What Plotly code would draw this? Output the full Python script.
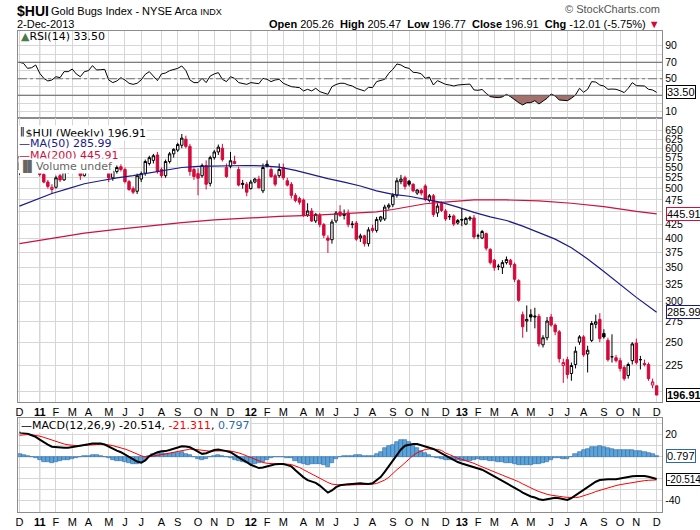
import math
import pandas as pd
import plotly.graph_objects as go

W, H = 700, 530

# ---------------- data ----------------
dates = [d.strftime('%Y-%m-%d') for d in pd.date_range('2010-12-03', '2013-11-29', freq='7D')] + ['2013-12-02']

opens = [545,578,590,580,592,570,533,515,498,503,530,520,540,560,572,565,530,565,585,595,
         600,598,545,525,540,552,545,516,500,494,522,536,560,568,582,545,530,565,585,595,
         608,625,605,545,535,530,555,512,575,590,600,550,553,565,545,512,510,500,515,522,
         495,558,545,530,530,550,518,510,485,478,475,444,452,432,443,425,400,397,432,450,
         443,448,425,428,400,404,390,418,414,434,436,460,465,485,516,525,517,510,490,496,
         506,474,484,448,468,452,440,442,428,435,426,436,438,404,400,408,380,362,352,350,
         358,362,355,330,283,275,283,280,281,247,255,280,270,262,225,231,217,226,250,256,
         237,252,271,277,260,252,234,233,230,223,215,230,249,231,227,226,206,205.26]
highs = [585,600,605,600,600,575,538,520,510,530,535,545,565,580,585,575,570,590,600,615,
         610,602,550,545,555,558,550,520,505,535,540,570,580,585,590,550,570,590,600,615,
         640,635,612,550,548,560,568,580,595,610,612,560,590,580,552,520,515,520,525,530,
         560,568,550,535,560,560,525,515,490,482,478,468,458,448,448,428,405,435,452,464,
         455,455,432,432,408,406,420,425,440,442,465,468,490,525,532,530,520,512,498,500,
         510,488,488,468,472,456,446,445,436,458,440,442,444,408,415,410,382,364,356,362,
         368,364,358,332,287,295,290,292,284,258,280,284,272,264,232,234,228,245,258,258,
         246,275,283,285,265,255,259,236,233,225,228,250,254,235,231,228,212,205.47]
lows = [532,565,570,568,560,528,512,500,488,500,515,518,535,550,555,520,528,560,575,588,
        588,540,515,518,535,540,512,495,488,488,515,530,555,560,535,525,525,560,575,590,
        600,600,530,520,485,525,498,505,570,582,565,525,548,558,505,500,483,498,512,500,
        490,550,525,505,525,520,505,478,470,465,440,440,430,428,420,400,374,390,428,440,
        435,420,418,395,393,385,385,410,410,430,432,455,460,480,510,498,505,492,486,485,
        472,470,440,440,450,432,434,422,425,422,424,432,398,398,398,378,355,345,346,340,
        355,350,328,300,255,262,274,266,245,244,252,268,258,228,208,212,210,222,247,234,
        218,250,266,250,254,229,228,228,219,210,212,226,226,221,224,210,203,196.77]
closes = [578,590,580,592,575,533,515,505,503,525,520,540,560,572,565,530,565,585,595,600,
          592,545,525,540,550,545,516,498,492,530,535,565,575,580,540,530,565,585,597,610,
          628,605,540,528,524,555,510,575,590,603,570,528,567,560,508,510,492,515,522,502,
          550,553,528,510,545,525,508,485,474,470,443,452,432,445,425,405,396,430,448,443,
          446,425,426,398,404,390,415,414,435,440,460,464,485,518,522,505,510,495,497,490,
          476,484,445,462,453,436,441,426,433,434,437,438,402,404,412,382,358,350,352,358,
          363,355,332,302,268,277,280,281,248,255,275,270,262,232,228,216,225,240,256,236,
          241,272,274,254,256,231,234,230,222,212,226,248,228,231,226,212,208.92,196.91]

ma50_idx = [0, 4, 8, 12, 16, 20, 24, 28, 32, 36, 40, 44, 48, 52, 56, 60, 64, 68, 72, 76,
            80, 84, 88, 92, 96, 100, 104, 108, 112, 116, 120, 124, 128, 132, 136, 140, 144, 148, 152, 157]
ma50_val = [462, 475, 489, 500, 511, 518, 525, 530, 537, 544, 550, 553, 554, 555, 555, 554, 551, 543, 532, 523,
            515, 506, 495, 487, 483, 477, 470, 460, 449, 440, 433, 422, 410, 398, 383, 364, 344, 324, 306, 285.99]
ma200_idx = [0, 8, 16, 24, 32, 40, 48, 56, 64, 72, 80, 88, 92, 96, 100, 104, 108, 112, 120, 128, 136, 144, 152, 157]
ma200_val = [390, 400, 409, 416, 423, 429, 434, 438, 441, 443, 446, 450, 455, 461, 467, 470, 473, 475, 475, 473, 468, 461, 451, 445.91]

rsi = [70, 68.7, 62.6, 63.4, 66.7, 56.6, 50.5, 47.3, 48.5, 52.5,
       51.3, 58.6, 58.6, 61.8, 55.8, 52.5, 58.6, 59.8, 65.9, 60.6,
       61.0, 61.4, 48.5, 45.3, 47.3, 51.3, 48.5, 44.5, 43.2, 44.5,
       48.5, 55.4, 58.6, 52.5, 47.7, 55.8, 57, 59.8, 61.5, 62.6,
       65.5, 60, 48.5, 45.3, 45.3, 50.5, 45.3, 53.3, 55.8, 57.4,
       49.3, 46.5, 52.5, 50.5, 45.3, 44.5, 43.2, 45.3, 44.5, 44,
       50.5, 49.3, 46.5, 48.5, 49.3, 44.5, 42.4, 40.4, 39.8, 39.2,
       35.2, 37.2, 35.2, 38.4, 34.4, 32.5, 31.1, 40.4, 43, 44.5,
       44.5, 42.5, 41.2, 38.4, 37, 35.2, 39.6, 39.2, 46.5, 48,
       49.3, 56.6, 61.4, 67.9, 66.7, 63.8, 62.6, 57.8, 57.4, 56,
       50.5, 52, 42.4, 47.7, 45.3, 43.2, 42.4, 41.2, 42.4, 42.4,
       43.2, 43.5, 36.4, 36, 37, 32.3, 28.3, 27.5, 27.1, 28,
       31.1, 28.3, 24.3, 21, 18.2, 21, 21, 23.4, 19.4, 23,
       26.3, 31.5, 29.1, 24.3, 24, 23.4, 26.3, 30.3, 38.4, 33.6,
       37.2, 46.5, 46, 42.4, 41.2, 37.2, 37.5, 37.2, 35.5, 33.2,
       38.4, 45.3, 41.6, 41.4, 41.2, 37.2, 36.4, 33.5]

macd = [22, 21.5, 21, 19.5, 18, 15.5, 13, 11, 9, 8.5,
        8, 8, 8, 8.5, 9, 9.8, 10.5, 11.2, 12, 12,
        12, 11, 9, 7, 5.5, 4, 2, 0, -2.5, -4.5,
        -5.5, -3.5, 0.5, 2.5, 4, 4.8, 5, 6, 7, 8,
        9.5, 9.2, 8.5, 6.5, 4.5, 2.5, 3, 4.5, 6, 6.5,
        6, 5, 4, 1.5, -0.5, -3, -5, -7.5, -9, -10.5,
        -10, -9, -8, -7, -6.8, -6.8, -7.8, -9, -12.5, -16,
        -19, -21.5, -22.5, -24, -26.5, -29.5, -33, -31, -28, -26.3,
        -25.5, -25.2, -25, -24.7, -24.5, -24.8, -25.1, -24.5, -22, -18.8,
        -14, -9, -4, 1.5, 6.5, 10, 11, 11.5, 11.5, 10.5,
        9.5, 8.5, 7, 5, 3, 0.5, -1.6, -3.5, -5, -6.3,
        -7.5, -8.5, -9.2, -10.5, -12, -14, -16, -18, -20, -22,
        -24, -26, -28, -30.6, -33, -35, -36.5, -37.5, -39, -39.7,
        -39, -38, -37.6, -38.2, -39, -39.7, -38, -35.5, -33, -30,
        -27.5, -25, -23, -21.5, -20.8, -20.8, -20.8, -20.8, -20, -19.2,
        -18.6, -18, -17.7, -17.6, -17.7, -18.5, -19.4, -20.514]
signal = [19.5, 19.9, 20.1, 19.9, 19.5, 18.7, 17.6, 16.3, 14.8, 13.5,
          12.4, 11.5, 10.8, 10.3, 10, 10, 10.1, 10.4, 10.7, 11,
          11.2, 11.2, 10.7, 10, 9.1, 8.1, 6.9, 5.5, 3.9, 2.2,
          0.7, -0.2, -0.1, 0.4, 1.1, 1.9, 2.5, 3.2, 4, 4.8,
          5.7, 6.4, 6.8, 6.7, 6.3, 5.5, 5, 4.9, 5.1, 5.4,
          5.5, 5.4, 5.1, 4.4, 3.4, 2.1, 0.7, -1, -2.6, -4.2,
          -5.4, -6.1, -6.5, -6.6, -6.6, -6.6, -6.9, -7.3, -8.4, -10,
          -12, -14, -16, -17.6, -19.4, -21.4, -23.7, -25.2, -25.8, -26,
          -26.1, -26, -25.9, -25.7, -25.5, -25.4, -25.3, -25.2, -24.6, -23.4,
          -21.5, -19, -15, -12, -9, -5.5, -2, 1, 3.5, 5.3,
          6.5, 7, 7, 6.5, 5.6, 3.2, 1.8, 0, -1.6, -2.6,
          -3.7, -4.8, -6.2, -7.9, -9.3, -10.6, -12, -13.8, -15.5, -17,
          -18.4, -20, -21.5, -23, -25, -27, -28.6, -30.4, -32, -33.5,
          -34.5, -35.3, -36, -36.5, -36.9, -37.3, -37.7, -37.5, -37, -36,
          -34.8, -33.5, -32, -30.8, -29.5, -28.3, -27.3, -26.5, -25.7, -25,
          -24.3, -23.6, -23, -22.4, -22, -21.7, -21.5, -21.311]
hist = [2.5, 1.6, 0.9, -0.4, -1.5, -3.2, -4.6, -5.3, -5.8, -5,
        -4.4, -3.5, -2.8, -1.8, -1, -0.2, 0.4, 0.8, 1.3, 1,
        0.8, -0.2, -1.7, -3, -3.6, -4.1, -4.9, -5.5, -6.4, -6.7,
        -6.2, -3.3, 0.6, 2.1, 2.9, 2.9, 2.5, 2.8, 3, 3.2,
        3.8, 2.8, 1.7, -0.2, -1.8, -3, -2, -0.4, 0.9, 1.1,
        0.5, -0.4, -1.1, -2.9, -3.9, -5.1, -5.7, -6.5, -6.4, -6.3,
        -4.6, -2.9, -1.5, -0.4, -0.2, -0.2, -0.9, -1.7, -4.1, -6,
        -7, -7.5, -6.5, -6.4, -7.1, -8.1, -9.3, -5.8, -2.2, -0.3,
        0.6, 0.8, 0.9, 1, 1, 0.6, 0.2, 0.7, 2.6, 4.6,
        7.5, 10, 11, 13.5, 15.5, 15.5, 13, 10.5, 8, 5.2,
        3, 1.5, 0, -1.5, -2.6, -2.7, -3.4, -3.5, -3.4, -3.7,
        -3.8, -3.7, -3, -2.6, -2.7, -3.4, -4, -4.2, -4.5, -5,
        -5.6, -6, -6.5, -7.6, -8, -8, -7.9, -7.1, -7, -6.2,
        -4.5, -2.7, -1.6, -1.7, -2.1, -2.4, -0.3, 2, 4, 6,
        7.3, 8.5, 9, 9.3, 8.7, 7.5, 6.5, 5.7, 5.7, 5.8,
        5.7, 5.6, 5.3, 4.8, 4.3, 3.2, 2.1, 0.797]

# ---------------- helpers ----------------
def py(y):
    return 1 - y / H

def pxx(x):
    return x / W

n = len(dates)
idx = list(range(n))
XR = [-0.37, 158.35]
XDOM = [pxx(16), pxx(662)]
GRID = '#d6d6d6'
BORDER = '#8c8c8c'
RED = '#d4093b'
AXFONT = dict(family='Liberation Sans, Arial, sans-serif', size=11, color='#000')
YFONT = dict(family='Liberation Sans, Arial, sans-serif', size=10.5, color='#000')
LGFONT = dict(family='DejaVu Sans, Verdana, sans-serif', size=11, color='#000')


def xdata_at_pixel(px):
    return XR[0] + (px - 16) / (662 - 16) * (XR[1] - XR[0])


letters = ['J', 'F', 'M', 'A', 'M', 'J', 'J', 'A', 'S', 'O', 'N', 'D']
tick_idx, tick_txt, year_idx = [], [], []
prev = None
for i, d in enumerate(dates):
    y, m = int(d[:4]), int(d[5:7])
    if (y, m) != prev:
        tick_idx.append(i)
        if m == 1:
            tick_txt.append('<b>%s</b>' % str(y)[2:])
            year_idx.append(i)
        else:
            tick_txt.append(letters[m - 1])
    prev = (y, m)

fig = go.Figure()

# ---------------- RSI panel ----------------
fx, fy = [], []
for k in range(n):
    if k > 0:
        a, b = rsi[k - 1], rsi[k]
        if (a - 30) * (b - 30) < 0:
            t = (30 - a) / (b - a)
            fx.append(k - 1 + t)
            fy.append(30)
    fx.append(k)
    fy.append(min(rsi[k], 30))
fig.add_trace(go.Scatter(x=fx, y=[30] * len(fx), mode='lines', line=dict(width=0),
                         xaxis='x', yaxis='y', showlegend=False, hoverinfo='skip'))
fig.add_trace(go.Scatter(x=fx, y=fy, mode='lines', line=dict(width=0), fill='tonexty',
                         fillcolor='#a4706c', xaxis='x', yaxis='y', showlegend=False, hoverinfo='skip'))
fig.add_trace(go.Scatter(x=idx, y=rsi, mode='lines', line=dict(color='#000', width=1),
                         xaxis='x', yaxis='y', showlegend=False, hoverinfo='skip'))

# ---------------- price panel ----------------
blk = [i for i in idx if i == 0 or closes[i] >= closes[i - 1]]
red = [i for i in idx if not (i == 0 or closes[i] >= closes[i - 1])]


def candles(sel, col):
    return go.Candlestick(
        x=sel, open=[opens[i] for i in sel], high=[highs[i] for i in sel],
        low=[lows[i] for i in sel], close=[closes[i] for i in sel],
        increasing=dict(line=dict(color=col, width=1), fillcolor='#ffffff'),
        decreasing=dict(line=dict(color=col, width=1), fillcolor=col),
        whiskerwidth=0, xaxis='x2', yaxis='y2', showlegend=False, hoverinfo='skip')


fig.add_trace(go.Scatter(x=ma200_idx, y=ma200_val, mode='lines', line=dict(color='#cc1040', width=1.2),
                         xaxis='x2', yaxis='y2', showlegend=False, hoverinfo='skip'))
fig.add_trace(go.Scatter(x=ma50_idx, y=ma50_val, mode='lines', line=dict(color='#1a1a8a', width=1.2),
                         xaxis='x2', yaxis='y2', showlegend=False, hoverinfo='skip'))
fig.add_trace(candles(blk, '#000000'))
fig.add_trace(candles(red, RED))

# ---------------- MACD panel ----------------
fig.add_trace(go.Bar(x=idx, y=hist, marker=dict(color='#5ba3d8', line=dict(color='#2c6aa6', width=0.6)),
                     width=1, xaxis='x3', yaxis='y3', showlegend=False, hoverinfo='skip'))
fig.add_trace(go.Scatter(x=idx, y=signal, mode='lines', line=dict(color='#ff0000', width=1),
                         xaxis='x3', yaxis='y3', showlegend=False, hoverinfo='skip'))
fig.add_trace(go.Scatter(x=idx, y=macd, mode='lines', line=dict(color='#000', width=2),
                         xaxis='x3', yaxis='y3', showlegend=False, hoverinfo='skip'))

# ---------------- value tags (pointer + box) ----------------
TAGX = 666
tags = [('x', 'y', rsi[-1], '33.50', '#000', False, 11),
        ('x2', 'y2', ma200_val[-1], '445.91', '#cc1040', False, 11),
        ('x2', 'y2', ma50_val[-1], '285.99', '#1a1a8a', False, 11),
        ('x2', 'y2', closes[-1], '196.91', '#000', True, 11),
        ('x3', 'y3', hist[-1], '0.797', '#2c6aa6', False, 11),
        ('x3', 'y3', macd[-1], '-20.514', '#000', False, 10)]
for xa, ya, v, s, col, bold, sz in tags:
    fig.add_trace(go.Scatter(x=[xdata_at_pixel(TAGX)], y=[v], mode='markers', cliponaxis=False,
                             marker=dict(symbol='triangle-left', size=10, color='#ffffff',
                                         line=dict(color=col, width=1)),
                             xaxis=xa, yaxis=ya, showlegend=False, hoverinfo='skip'))

# ---------------- axes ----------------
xcommon = dict(range=XR, domain=XDOM, tickmode='array', tickvals=tick_idx, ticktext=tick_txt,
               showgrid=True, gridcolor=GRID, gridwidth=1, zeroline=False, showline=True,
               linecolor=BORDER, mirror=True, ticks='', tickfont=AXFONT, fixedrange=True)
ycommon = dict(side='right', showgrid=True, gridcolor=GRID, zeroline=False, showline=True,
               linecolor=BORDER, mirror=True, ticks='', tickfont=YFONT, fixedrange=True)

layout_axes = dict(
    xaxis=dict(xcommon, anchor='y', showticklabels=False),
    yaxis=dict(ycommon, domain=[py(118), py(31)], range=[2.4, 107.9], tickmode='array',
               tickvals=[10, 20, 30, 40, 50, 60, 70, 80, 90],
               ticktext=['10', '', '', '', '50', '', '70', '', '90']),
    xaxis2=dict(xcommon, anchor='y2', matches='x', rangeslider=dict(visible=False)),
    yaxis2=dict(ycommon, domain=[py(402), py(118)], type='log',
                range=[math.log10(190.8), math.log10(687.7)], tickmode='array',
                tickvals=[200, 225, 250, 275, 300, 325, 350, 375, 400, 425, 450, 475, 500, 525, 550, 575, 600, 625, 650],
                ticktext=['', '225', '250', '275', '300', '325', '350', '375', '400', '425', '', '475', '500', '525',
                          '550', '575', '600', '625', '650']),
    xaxis3=dict(xcommon, anchor='y3', matches='x'),
    yaxis3=dict(ycommon, domain=[py(512), py(418)], range=[-50.7, 35.3], tickmode='array',
                tickvals=[-40, -30, -20, -10, 0, 10, 20, 30],
                ticktext=['-40', '', '', '', '', '', '20', '']),
)

shapes = []
for xr, yr in (('x', 'y'), ('x2', 'y2'), ('x3', 'y3')):
    for i in year_idx:
        shapes.append(dict(type='line', xref=xr, yref=yr + ' domain', x0=i, x1=i, y0=0, y1=1,
                           line=dict(color='#a8a8a8', width=1), layer='below'))
shapes.append(dict(type='line', xref='x domain', yref='y', x0=0, x1=1, y0=70, y1=70,
                   line=dict(color='#606060', width=1)))
shapes.append(dict(type='line', xref='x domain', yref='y', x0=0, x1=1, y0=30, y1=30,
                   line=dict(color='#606060', width=1)))
shapes.append(dict(type='line', xref='x domain', yref='y', x0=0, x1=1, y0=50, y1=50,
                   line=dict(color='#707070', width=1, dash='dashdot')))

ann = []


def text(x, y, s, font=None, xanchor='left', bg=None, **kw):
    d = dict(xref='paper', yref='paper', x=pxx(x), y=py(y), text=s, showarrow=False,
             xanchor=xanchor, yanchor='middle', font=font or LGFONT, borderpad=0)
    if bg:
        d['bgcolor'] = bg
    d.update(kw)
    ann.append(d)


HF = dict(family='Liberation Sans, Arial, sans-serif', size=11, color='#000')
text(14, 11, '<b>$HUI</b>', font=dict(HF, size=14))
text(48, 11, 'Gold Bugs Index - NYSE Arca <span style="font-size:9px">INDX</span>', font=dict(HF, size=11))
text(14, 24, '2-Dec-2013', font=dict(HF, size=11))
text(661, 9, '\u00a9 StockCharts.com', font=dict(HF, size=11, color='#555'), xanchor='right')
text(661, 24,
     '<b>Open</b> 205.26  <b>High</b> 205.47  <b>Low</b> 196.77  <b>Close</b> 196.91  '
     '<b>Chg</b> -12.01 (-5.75%) <span style="color:#d4093b">\u25bc</span>',
     font=dict(HF, size=11), xanchor='right')

# panel legends
text(18, 37, '<span style="color:#4a7a4a">\u25b2</span>RSI(14) 33.50', font=LGFONT)
text(16.5, 133, '\u2551$HUI (Weekly) 196.91', bg='#ffffff')
text(16.5, 144, '<span style="color:#1a1a8a">\u2014MA(50) 285.99</span>', bg='#ffffff')
text(16.5, 155, '<span style="color:#cc1040">\u2014MA(200) 445.91</span>', bg='#ffffff')
text(16.5, 166, '<span style="color:#666">\u2590\u258cVolume undef</span>', bg='#ffffff')
text(18, 425, '<span style="color:#000">\u2014</span>MACD(12,26,9) -20.514, <span style="color:#ff0000">-21.311</span>, '
     '<span style="color:#2c6aa6">0.797</span>', font=LGFONT, bg='#ffffff')

# value tag boxes
for xa, ya, v, s, col, bold, sz in tags:
    yv = math.log10(v) if ya == 'y2' else v
    ann.append(dict(xref='paper', yref=ya, x=pxx(TAGX), y=yv, text=('<b>%s</b>' % s) if bold else s,
                    showarrow=False, xanchor='left', yanchor='middle', font=dict(AXFONT, size=sz),
                    bgcolor='#ffffff', bordercolor=col, borderwidth=1, borderpad=0))

fig.update_layout(
    width=W, height=H, margin=dict(l=0, r=0, t=0, b=0), paper_bgcolor='#ffffff', plot_bgcolor='#ffffff',
    showlegend=False, bargap=0, boxgap=0.15, shapes=shapes, annotations=ann, **layout_axes)

fig.write_html('out.html')
